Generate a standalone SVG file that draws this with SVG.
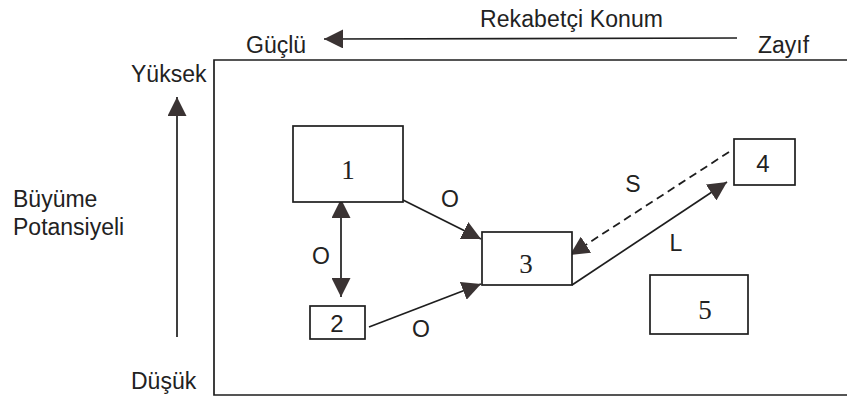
<svg xmlns="http://www.w3.org/2000/svg" width="847" height="401" viewBox="0 0 847 401">
  <style>
    .lbl { font-family: "Liberation Sans", Arial, sans-serif; font-size: 23px; fill: #222; }
    .edge { font-family: "Liberation Sans", Arial, sans-serif; font-size: 23px; fill: #222; text-anchor: middle; }
    .num { font-family: "Liberation Serif", "Times New Roman", serif; font-size: 27px; fill: #222; text-anchor: middle; }
    .nums { font-family: "Liberation Sans", Arial, sans-serif; font-size: 24px; fill: #222; text-anchor: middle; }
    .box { fill: #fff; stroke: #1e1e1e; stroke-width: 1.7; }
    .line { fill: none; stroke: #1e1e1e; stroke-width: 1.7; }
    .dash { fill: none; stroke: #1e1e1e; stroke-width: 1.8; stroke-dasharray: 8 5; }
  </style>
  <defs>
    <marker id="head" viewBox="0 0 20 20" refX="20" refY="10" markerWidth="19" markerHeight="19" markerUnits="userSpaceOnUse" orient="auto-start-reverse">
      <path d="M0,0 L20,10 L0,20 z" fill="#3a3333"/>
    </marker>
  </defs>

  <rect width="847" height="401" fill="#fff"/>

  <!-- axes and frame -->
  <g id="axes">
    <text class="lbl" x="480" y="27" textLength="183">Rekabetçi Konum</text>
    <text class="lbl" x="246" y="53">Güçlü</text>
    <text class="lbl" x="758" y="53">Zayıf</text>
    <line class="line" x1="737" y1="38" x2="324" y2="39" marker-end="url(#head)" stroke-width="2"/>
    <text class="lbl" x="131" y="82">Yüksek</text>
    <text class="lbl" x="131" y="389">Düşük</text>
    <text class="lbl" x="13" y="207">Büyüme</text>
    <text class="lbl" x="13" y="235">Potansiyeli</text>
    <line class="line" x1="177" y1="337" x2="177" y2="97" marker-end="url(#head)"/>
    <path class="line" d="M 860,60 H 214 V 395 H 860"/>
  </g>

  <!-- connectors -->
  <g id="connectors">
    <line class="line" x1="341" y1="199" x2="341" y2="297" marker-start="url(#head)" marker-end="url(#head)"/>
    <line class="line" x1="403" y1="200" x2="481" y2="239" marker-end="url(#head)"/>
    <line class="line" x1="369" y1="327" x2="481" y2="284" marker-end="url(#head)"/>
    <line class="line" x1="572" y1="285" x2="727" y2="182" marker-end="url(#head)"/>
    <line class="dash" x1="729" y1="152" x2="570" y2="255" marker-end="url(#head)"/>
    <text class="edge" x="321" y="264">O</text>
    <text class="edge" x="450" y="207">O</text>
    <text class="edge" x="421" y="337">O</text>
    <text class="edge" x="633" y="192">S</text>
    <text class="edge" x="676" y="251">L</text>
  </g>

  <g id="node1">
    <rect class="box" x="293" y="126" width="110" height="76"/>
    <text class="num" x="348" y="179">1</text>
  </g>
  <g id="node2">
    <rect class="box" x="310" y="306" width="55" height="33"/>
    <text class="nums" x="337" y="332">2</text>
  </g>
  <g id="node3">
    <rect class="box" x="482" y="232" width="90" height="53"/>
    <text class="num" x="526" y="273">3</text>
  </g>
  <g id="node4">
    <rect class="box" x="734" y="139" width="61" height="46"/>
    <text class="nums" x="763" y="172">4</text>
  </g>
  <g id="node5">
    <rect class="box" x="650" y="275" width="98" height="59"/>
    <text class="num" x="705" y="319">5</text>
  </g>
</svg>
